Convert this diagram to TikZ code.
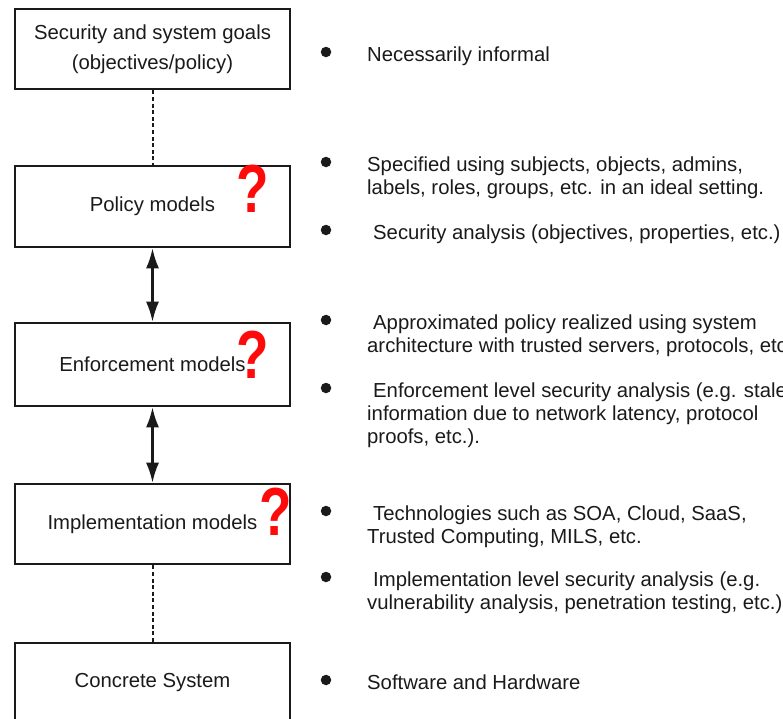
\documentclass[tikz,border=0pt]{standalone}
\usepackage{fontspec}
\setmainfont{Liberation Sans}
\usetikzlibrary{arrows.meta}
\definecolor{ink}{HTML}{1A1A1A}
\definecolor{qred}{HTML}{FF0A0A}
\tikzset{
  level/.style={draw=ink, line width=2.6pt, minimum width=275pt, minimum height=80pt,
    inner sep=0pt, text=ink, align=center, font=\fontsize{20.3}{30}\selectfont},
  loose/.style={draw=ink, line width=2pt, dash pattern=on 4pt off 2.6pt},
  link/.style={draw=ink, line width=2.2pt, {Latex[length=20pt,width=13pt]}-{Latex[length=20pt,width=13pt]}},
  txt/.style={anchor=base west, inner sep=0pt, text=ink, font=\fontsize{20.3}{23}\selectfont},
  dot/.style={circle, fill=ink, inner sep=0pt, minimum size=10.5pt},
  ask/.style={inner sep=0pt, text=qred, font=\fontsize{68}{68}\bfseries\selectfont, xscale=0.78}
}
\begin{document}
\begin{tikzpicture}[x=1pt, y=-1pt]
\useasboundingbox (0,0) rectangle (783,718);
\clip (0,0) rectangle (783,718);

% the five abstraction levels
\node[level] (goals) at (152.5,49) {Security and system goals\\(objectives/policy)};
\node[level, minimum height=81pt] (policy) at (152.5,206.5) {Policy models};
\node[level, minimum height=83pt] (enf) at (152.5,364.5) {Enforcement models};
\node[level] (impl) at (152.5,524) {Implementation models};
\node[level] (conc) at (152.5,683) {Concrete System};

% connectors between levels
\draw[loose] (goals.south) -- (policy.north);
\draw[link] (policy.south) -- (enf.north);
\draw[link] (enf.south) -- (impl.north);
\draw[loose] (impl.south) -- (conc.north);

% open questions
\node[ask, anchor=base] (q1) at (253,212) {?};
\node[ask, anchor=base] (q2) at (253,378) {?};
\node[ask, anchor=base] (q3) at (276,535) {?};

% notes for each level
\node[dot] (b1) at (326,52) {};
\node[txt] (t1) at (367,61) {Necessarily informal};

\node[dot] (b2) at (326,162) {};
\node[txt] (t2a) at (367,171) {Specified using subjects, objects, admins,};
\node[txt] (t2b) at (367,194) {labels, roles, groups, etc. in an ideal setting.};
\node[dot] (b3) at (326,230) {};
\node[txt] (t3) at (373,239) {Security analysis (objectives, properties, etc.)};

\node[dot] (b4) at (326,320) {};
\node[txt] (t4a) at (373,329) {Approximated policy realized using system};
\node[txt] (t4b) at (367,352) {architecture with trusted servers, protocols, etc.};
\node[dot] (b5) at (326,388) {};
\node[txt] (t5a) at (373,397) {Enforcement level security analysis (e.g. stale};
\node[txt] (t5b) at (367,420) {information due to network latency, protocol};
\node[txt] (t5c) at (367,443) {proofs, etc.).};

\node[dot] (b6) at (326,511) {};
\node[txt] (t6a) at (373,520) {Technologies such as SOA, Cloud, SaaS,};
\node[txt] (t6b) at (367,543) {Trusted Computing, MILS, etc.};
\node[dot] (b7) at (326,577) {};
\node[txt] (t7a) at (373,586) {Implementation level security analysis (e.g.};
\node[txt] (t7b) at (367,609) {vulnerability analysis, penetration testing, etc.)};

\node[dot] (b8) at (326,680) {};
\node[txt] (t8) at (367,689) {Software and Hardware};
\end{tikzpicture}
\end{document}
